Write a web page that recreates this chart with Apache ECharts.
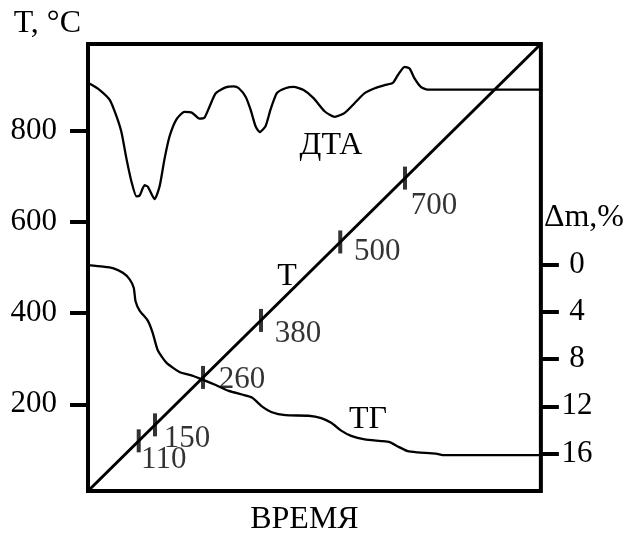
<!DOCTYPE html>
<html><head><meta charset="utf-8">
<script src="https://cdn.jsdelivr.net/npm/echarts@6/dist/echarts.min.js"></script>
<style>html,body{margin:0;padding:0;background:#fff}#c{width:627px;height:541px}</style>
</head><body><div id="c"></div>
<script>
// ---- data ----
const leftTicks = [200, 400, 600, 800];          // T, °C
const rightTicks = [0, 4, 8, 12, 16];            // Δm, %
const timeDTA = [0,0.6,2.6,4.8,6.3,7.4,8.5,9.6,10.7,11.4,12.5,13.2,14.7,15.8,16.9,18.0,19.5,21.3,23.0,24.6,25.7,26.8,28.2,30.4,32.2,33.3,34.8,35.9,37.0,37.9,39.2,40.3,41.7,43.6,45.4,47.6,49.8,52.3,54.5,56.7,58.9,61.1,63.3,65.5,67.3,68.4,69.9,71.0,72.1,73.5,75.0,100];
const dtaSignal = [91.2,91.0,89.7,87.5,83.8,80.2,74.3,69.2,65.9,66.1,68.4,68.1,65.3,68.1,74.3,79.3,83.1,84.8,84.6,83.3,83.5,85.9,89.0,90.3,90.5,90.1,88.2,85.3,81.6,80.3,81.6,85.3,89.0,90.1,90.4,89.7,87.9,84.9,83.7,84.6,86.8,89.0,90.1,90.8,91.3,93.0,94.9,94.5,92.3,90.4,89.8,89.8];
const timeTG = [0,3.3,5.5,7.7,9.2,10.1,10.5,11.4,13.2,14.3,15.4,17.3,20.2,23.0,25.7,28.2,31.1,34.0,36.2,38.4,40.6,43.6,48.7,51.5,53.7,55.9,58.1,61.1,64.7,66.6,68.4,70.6,72.8,76.8,78.7,100];
const tgLoss = [0.05,0.17,0.3,0.7,1.25,1.97,3.1,3.9,4.75,5.8,7.25,8.3,9.1,9.4,9.8,10.2,10.7,11.0,11.25,12.0,12.5,12.75,12.8,13.0,13.4,14.06,14.5,14.8,14.94,15.03,15.4,15.8,15.9,16.0,16.14,16.14];
const timeDiag = [0, 100];
const tempDiag = [10, 990];
const markTime = [11.2, 14.8, 25.4, 38.2, 55.7, 70.0];
const markTemp = [120, 155, 259, 384, 556, 696];
const markLabel = ['110', '150', '260', '380', '500', '700'];

// ---- layout only ----
const labelOffsets = [[25,19],[32,14],[39,2],[37,13],[37,10],[29,28]];
const FONT = 'Liberation Serif';
const FS = 31;   // digits
const FW = 32;   // words

const zip = (a, b) => a.map((v, i) => [v, b[i]]);

const chart = echarts.init(document.getElementById('c'), null, {renderer: 'canvas'});
chart.setOption({
  animation: false,
  backgroundColor: '#fff',
  textStyle: {fontFamily: FONT, color: '#000'},
  grid: {left: 88, right: 83, top: 44, bottom: 43, show: true, borderWidth: 4, borderColor: '#000', backgroundColor: 'transparent'},
  xAxis: {
    type: 'value', min: 0, max: 100,
    name: 'ВРЕМЯ', nameLocation: 'middle', nameGap: 13,
    nameTextStyle: {fontFamily: FONT, fontSize: FW, color: '#000', padding: [0, 20, 0, 0]},
    axisLine: {show: false}, axisTick: {show: false}, axisLabel: {show: false}, splitLine: {show: false}
  },
  yAxis: [
    {
      type: 'value', min: 10, max: 990, position: 'left',
      name: 'T, °C', nameLocation: 'end', nameGap: 4,
      nameTextStyle: {fontFamily: FONT, fontSize: FW, color: '#000', align: 'right', verticalAlign: 'bottom', padding: [0, 7, 0, 0]},
      axisLine: {show: false},
      axisTick: {show: true, inside: false, length: 18, lineStyle: {width: 4, color: '#000'}, customValues: leftTicks},
      axisLabel: {show: true, margin: 31, fontFamily: FONT, fontSize: FS, color: '#000', customValues: leftTicks},
      splitLine: {show: false}
    },
    {
      type: 'value', min: -18.67, max: 19.17, inverse: true, position: 'right',
      name: 'Δm,%', nameLocation: 'start', nameGap: -190,
      nameTextStyle: {fontFamily: FONT, fontSize: FW, color: '#000', align: 'left', verticalAlign: 'bottom', padding: [0, 0, 0, 3]},
      axisLine: {show: false},
      axisTick: {show: true, inside: false, length: 18, lineStyle: {width: 4, color: '#000'}, customValues: rightTicks},
      axisLabel: {show: true, margin: 36, align: 'center', fontFamily: FONT, fontSize: FS, color: '#000', customValues: rightTicks},
      splitLine: {show: false}
    },
    {
      type: 'value', min: 0, max: 100, show: false, splitLine: {show: false}
    }
  ],
  series: [
    {
      name: 'ДТА', type: 'line', yAxisIndex: 2, data: zip(timeDTA, dtaSignal),
      showSymbol: false, smooth: 0.2, lineStyle: {color: '#000', width: 2.3}, z: 3
    },
    {
      name: 'ТГ', type: 'line', yAxisIndex: 1, data: zip(timeTG, tgLoss),
      showSymbol: false, smooth: 0.2, lineStyle: {color: '#000', width: 2.3}, z: 3
    },
    {
      name: 'T', type: 'line', yAxisIndex: 0, data: zip(timeDiag, tempDiag),
      showSymbol: false, lineStyle: {color: '#000', width: 3}, z: 3
    },
    {
      name: 'marks', type: 'scatter', yAxisIndex: 0,
      symbol: 'rect', symbolSize: [4, 23],
      itemStyle: {color: '#000'}, z: 4,
      data: markTime.map((t, i) => ({
        value: [t, markTemp[i]],
        label: {show: true, formatter: markLabel[i], position: 'inside', offset: labelOffsets[i],
                align: 'center', verticalAlign: 'middle', fontFamily: FONT, fontSize: FS, color: '#000'}
      }))
    }
  ],
  graphic: [
    {type: 'text', x: 287, y: 277, style: {text: 'T', font: FW + 'px "' + FONT + '"', fill: '#000', textAlign: 'center', textVerticalAlign: 'middle'}},
    {type: 'text', x: 331, y: 146, style: {text: 'ДТА', font: FW + 'px "' + FONT + '"', fill: '#000', textAlign: 'center', textVerticalAlign: 'middle'}},
    {type: 'text', x: 368, y: 420, style: {text: 'ТГ', font: FW + 'px "' + FONT + '"', fill: '#000', textAlign: 'center', textVerticalAlign: 'middle'}}
  ]
});
</script></body></html>
